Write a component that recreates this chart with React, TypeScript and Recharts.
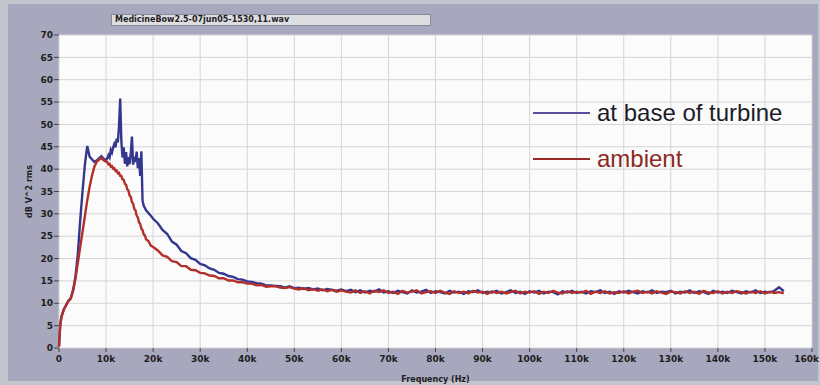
import { LineChart, Line, XAxis, YAxis, CartesianGrid, Legend, Label } from 'recharts';

// frequency bins (kHz) shared by both traces
const FREQ_KHZ = [
  // rise
  0, 0.25, 0.5, 1, 1.5, 2, 2.5, 3, 3.5, 4, 4.5, 5, 5.5, 6, 6.5, 7, 7.5, 8, 8.5, 9, 9.5, 10,
  // peak region
  10.25, 10.5, 10.75, 11, 11.25, 11.5, 11.75, 12, 12.25, 12.5,
  12.75, 13, 13.25, 13.5, 13.75, 14, 14.25, 14.5, 14.75, 15,
  15.25, 15.5, 15.75, 16, 16.25, 16.5, 16.75, 17, 17.25, 17.5,
  17.75, 18, 18.25, 18.5,
  19, 19.5, 20,
  // tail
  21, 22, 23, 24, 25, 26, 27, 28, 29, 30,
  31, 32, 33, 34, 35, 36, 37, 38, 39, 40,
  41, 42, 43, 44, 45, 46, 47, 48, 49, 50,
  51, 52, 53, 54, 55, 56, 57, 58, 59, 60,
  61, 62, 63, 64, 65, 66, 67, 68, 69, 70,
  71, 72, 73, 74, 75, 76, 77, 78, 79, 80,
  81, 82, 83, 84, 85, 86, 87, 88, 89, 90,
  91, 92, 93, 94, 95, 96, 97, 98, 99, 100,
  101, 102, 103, 104, 105, 106, 107, 108, 109, 110,
  111, 112, 113, 114, 115, 116, 117, 118, 119, 120,
  121, 122, 123, 124, 125, 126, 127, 128, 129, 130,
  131, 132, 133, 134, 135, 136, 137, 138, 139, 140,
  141, 142, 143, 144, 145, 146, 147, 148, 149, 150,
  151, 152, 153, 154,
];

// "at base of turbine" (dB V^2 rms)
const TURBINE_DB = [
  0.3, 5.0, 7.0, 8.6, 9.6, 10.6, 11.2, 13.0, 16.0, 21.0, 28.5, 35.0, 41.0, 45.2, 42.8, 42.2, 41.6, 41.9, 42.4, 42.9, 42.3, 42.0,
  42.4, 43.1, 42.6, 44.3, 43.7, 44.8, 45.6, 44.9, 46.8, 46.0,
  49.5, 55.8, 46.2, 42.6, 44.9, 41.2, 43.8, 40.6, 42.7, 41.1,
  43.5, 47.3, 41.0, 42.8, 41.6, 43.9, 40.2, 42.5, 38.5, 44.0,
  33.0, 31.8, 31.3, 30.8,
  30.2, 29.6, 28.9,
  27.9, 26.4, 25.5, 23.8, 23.1, 21.7, 21.2, 20.1, 19.7, 18.8,
  18.5, 17.8, 17.5, 16.8, 16.6, 16.1, 15.9, 15.4, 15.3, 14.9,
  14.8, 14.5, 14.4, 14.0, 14.0, 13.9, 13.8, 13.5, 13.8, 13.4,
  13.5, 13.2, 13.4, 13.1, 13.3, 12.9, 13.2, 13.0, 12.8, 13.1,
  12.7, 13.0, 12.5, 12.9, 12.4, 12.8, 12.6, 13.1, 12.4, 12.7,
  12.3, 12.8, 12.5, 12.2, 12.9, 12.4, 12.6, 13.0, 12.3, 12.7,
  12.5, 12.2, 12.8, 12.4, 12.6, 12.1, 12.7, 12.5, 12.9, 12.3,
  12.6, 12.4, 12.8, 12.2, 12.5, 12.9, 12.3, 12.6, 12.1, 12.7,
  12.4, 12.8, 12.2, 12.6, 12.5, 12.0, 12.7, 12.4, 12.8, 12.3,
  12.6, 12.2, 12.7, 12.5, 12.9, 12.3, 12.6, 12.1, 12.7, 12.4,
  12.8, 12.5, 12.2, 12.7, 12.4, 12.9, 12.3, 12.6, 12.5, 12.8,
  12.2, 12.6, 12.4, 12.9, 12.3, 12.7, 12.5, 12.1, 12.8, 12.4,
  12.6, 12.3, 12.8, 12.5, 12.2, 12.7, 12.4, 12.9, 12.3, 12.6,
  12.4, 12.8, 13.6, 12.7,
];

// "ambient" (dB V^2 rms)
const AMBIENT_DB = [
  0.3, 5.0, 6.8, 8.5, 9.5, 10.5, 11.0, 12.8, 15.5, 19.0, 22.5, 26.0, 29.5, 33.0, 36.0, 38.5, 40.5, 41.6, 42.1, 42.5, 42.0, 41.7,
  41.6, 41.1, 41.2, 40.6, 40.7, 40.1, 40.2, 39.6, 39.7, 39.1,
  39.2, 38.5, 38.5, 37.7, 37.6, 36.7, 36.5, 35.5, 35.2, 34.1,
  33.8, 32.6, 32.3, 31.1, 30.8, 29.6, 29.2, 28.1, 27.8, 26.7,
  26.4, 25.4, 25.2, 24.3,
  23.9, 22.9, 22.6,
  21.8, 20.7, 20.4, 19.4, 19.2, 18.3, 18.3, 17.5, 17.4, 16.8,
  16.7, 16.2, 16.1, 15.6, 15.6, 15.1, 15.1, 14.7, 14.7, 14.4,
  14.4, 14.0, 14.1, 13.7, 13.8, 13.8, 13.5, 13.4, 13.6, 13.3,
  13.1, 13.4, 12.9, 13.2, 12.8, 13.1, 12.7, 13.0, 12.6, 12.9,
  12.6, 12.4, 12.9, 12.3, 12.7, 12.2, 12.8, 12.5, 12.9, 12.3,
  12.6, 12.1, 12.8, 12.4, 12.6, 12.9, 12.2, 12.5, 12.7, 12.3,
  12.8, 12.4, 12.1, 12.7, 12.3, 12.6, 12.2, 12.8, 12.4, 12.6,
  12.1, 12.7, 12.3, 12.6, 12.2, 12.5, 12.8, 12.2, 12.6, 12.4,
  12.7, 12.1, 12.6, 12.3, 12.8, 12.4, 12.2, 12.7, 12.3, 12.6,
  12.4, 12.8, 12.1, 12.6, 12.3, 12.7, 12.2, 12.5, 12.3, 12.7,
  12.2, 12.6, 12.8, 12.3, 12.6, 12.2, 12.7, 12.4, 12.1, 12.6,
  12.5, 12.2, 12.7, 12.3, 12.6, 12.1, 12.8, 12.4, 12.3, 12.7,
  12.2, 12.6, 12.3, 12.7, 12.5, 12.2, 12.6, 12.3, 12.7, 12.2,
  12.6, 12.3, 12.5, 12.2,
];

const X_TICKS = [0, 10000, 20000, 30000, 40000, 50000, 60000, 70000, 80000, 90000, 100000, 110000, 120000, 130000, 140000, 150000, 160000];
const Y_TICKS = [0, 5, 10, 15, 20, 25, 30, 35, 40, 45, 50, 55, 60, 65, 70];

const SERIES = [
  { key: 'turbine', label: 'at base of turbine', stroke: '#34378e', swatch: '#5a4e9a', text: '#1c1c28' },
  { key: 'ambient', label: 'ambient', stroke: '#b22f2a', swatch: '#9a2a28', text: '#8a2a22' },
];

const rows = FREQ_KHZ.map((f, i) => ({ hz: f * 1000, turbine: TURBINE_DB[i], ambient: AMBIENT_DB[i] }));

const tickStyle = { fontFamily: 'DejaVu Sans', fontWeight: 700, fontSize: 9, fill: '#1e1e1e' };

// last label sits against the right edge, so anchor it at its end
function FreqTick(props: any) {
  const { x, y, payload } = props;
  const last = payload.value === X_TICKS[X_TICKS.length - 1];
  const label = payload.value === 0 ? '0' : `${payload.value / 1000}k`;
  return (
    <text x={last ? x + 7 : x} y={y} dy="0.71em" textAnchor={last ? 'end' : 'middle'} {...tickStyle}>
      {label}
    </text>
  );
}

function LegendBox() {
  return (
    <div style={{ display: 'flex', flexDirection: 'column', gap: 20 }}>
      {SERIES.map((s) => (
        <div key={s.key} style={{ display: 'flex', alignItems: 'center', height: 26 }}>
          <span style={{ width: 57, height: 2, background: s.swatch, marginRight: 7 }} />
          <span style={{ fontFamily: '"Liberation Sans", Arial', fontSize: 24, color: s.text, lineHeight: '26px', whiteSpace: 'nowrap' }}>
            {s.label}
          </span>
        </div>
      ))}
    </div>
  );
}

export default function App() {
  return (
    <div style={{ position: 'relative', width: 820, height: 385, background: '#c4c4cc', overflow: 'hidden' }}>
      <style>{'body{margin:0}'}</style>
      <div style={{ position: 'absolute', left: 8, top: 4, width: 810, height: 377, background: '#a7a7bd' }} />

      {/* file name box */}
      <div
        style={{
          position: 'absolute', left: 111, top: 14, width: 320, height: 12,
          background: '#dedee2', border: '1px solid #8a8a96', boxSizing: 'border-box',
          fontFamily: 'DejaVu Sans', fontWeight: 700, fontSize: 8, lineHeight: '10px',
          color: '#222', paddingLeft: 3, whiteSpace: 'nowrap',
        }}
      >
        MedicineBow2.5-07jun05-1530,11.wav
      </div>

      <div style={{ position: 'absolute', left: 0, top: 0 }}>
        <LineChart width={820} height={385} data={rows} margin={{ top: 35, right: 8, bottom: 0, left: 0 }}>
          <CartesianGrid stroke="#d5d5d8" fill="#fbfbfb" fillOpacity={1} horizontalValues={Y_TICKS} verticalValues={X_TICKS} />
          <XAxis
            dataKey="hz"
            type="number"
            domain={[0, 160000]}
            ticks={X_TICKS}
            height={37}
            axisLine={false}
            tickLine={{ stroke: '#444' }}
            tickSize={4}
            tickMargin={4}
            tick={<FreqTick />}
            interval={0}
          >
            <Label value="Frequency (Hz)" position="insideBottom" offset={3} style={{ ...tickStyle, fontSize: 8 }} />
          </XAxis>
          <YAxis
            type="number"
            domain={[0, 70]}
            ticks={Y_TICKS}
            width={59}
            axisLine={false}
            tickLine={{ stroke: '#444' }}
            tickSize={5}
            tickMargin={1}
            tick={tickStyle}
            interval={0}
          >
            <Label value="dB V^2 rms" position="center" angle={-90} style={{ ...tickStyle, fontSize: 8 }} />
          </YAxis>
          <Legend
            layout="horizontal"
            verticalAlign="middle"
            align="center"
            wrapperStyle={{ left: 533, top: 100, width: 280 }}
            content={() => <LegendBox />}
          />
          {SERIES.map((s) => (
            <Line
              key={s.key}
              dataKey={s.key}
              type="linear"
              stroke={s.stroke}
              strokeWidth={2.4}
              dot={false}
              isAnimationActive={false}
            />
          ))}
        </LineChart>
      </div>
    </div>
  );
}
